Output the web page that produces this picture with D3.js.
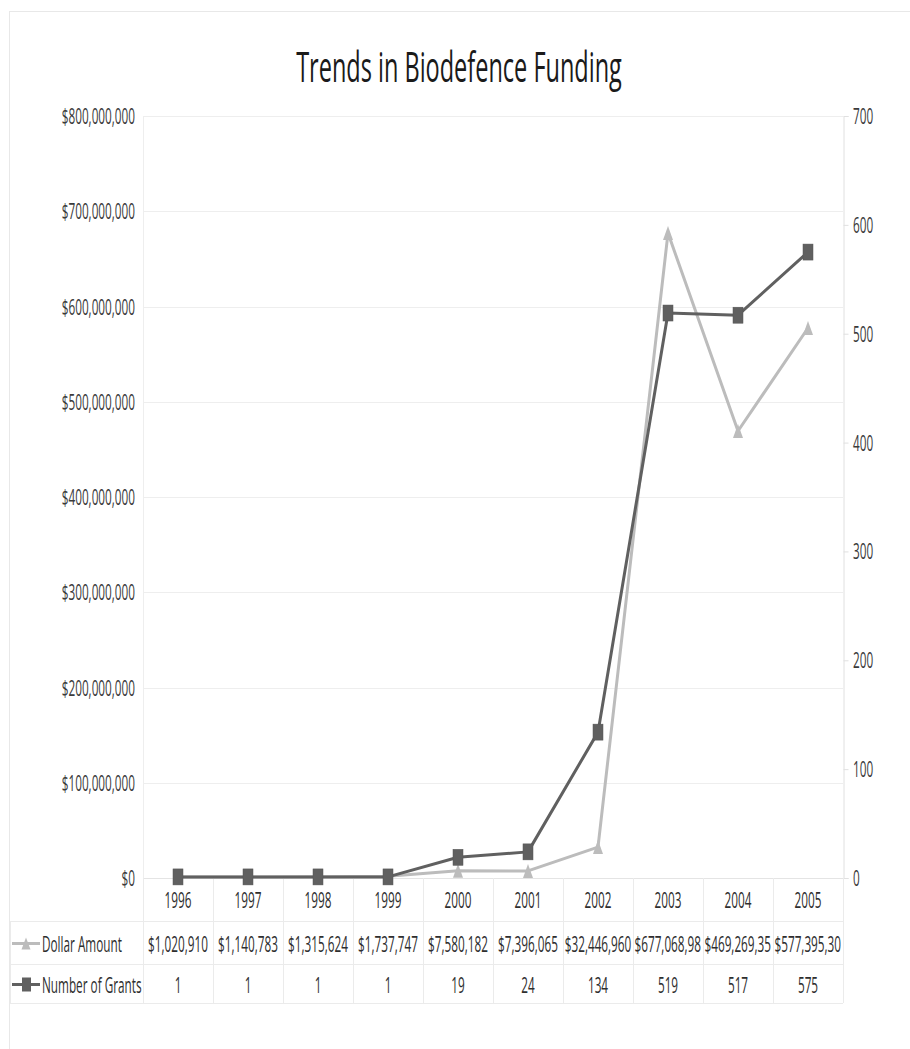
<!DOCTYPE html>
<html>
<head>
<meta charset="utf-8">
<script src="https://cdn.jsdelivr.net/npm/d3@7"></script>
<style>
html,body{margin:0;padding:0;background:#fff;}
svg text{font-family:"Open Sans",sans-serif;}
</style>
</head>
<body>
<svg id="chart" width="910" height="1049"></svg>
<script>
const title = "Trends in Biodefence Funding";
const years = ["1996","1997","1998","1999","2000","2001","2002","2003","2004","2005"];
const dollarAmount = [1020910, 1140783, 1315624, 1737747, 7580182, 7396065, 32446960, 677068980, 469269350, 577395300];
const numberOfGrants = [1, 1, 1, 1, 19, 24, 134, 519, 517, 575];
const leftTicks = [0, 100000000, 200000000, 300000000, 400000000, 500000000, 600000000, 700000000, 800000000];
const rightTicks = [0, 100, 200, 300, 400, 500, 600, 700];
const seriesNames = ["Dollar Amount", "Number of Grants"];

const svg = d3.select("#chart");
const L = 143, R = 843, T = 116, B = 878;
const rowY = [878, 921, 964, 1003];
const tableLeft = 10;
const SX = 0.56;
const FS = 21;
const lightColor = "#bcbcbc", darkColor = "#606060";
const gridColor = "#eeeeee";

const x = d3.scaleBand().domain(years).range([L, R]);
const yL = d3.scaleLinear().domain([0, 800000000]).range([B, T]);
const yR = d3.scaleLinear().domain([0, 700]).range([B, T]);

function sText(g, xx, yy, str, opts) {
  opts = opts || {};
  const gg = g.append("g").attr("transform", `translate(${xx},${yy}) scale(${opts.sx || SX},1)`);
  const t = gg.append("text")
    .attr("text-anchor", opts.anchor || "middle")
    .attr("dominant-baseline", "central")
    .attr("font-size", opts.fs || FS)
    .attr("fill", opts.fill || "#3a3a3a")
    .text(str);
  return t;
}

// outer border
svg.append("rect").attr("x", 9.5).attr("y", 11.5).attr("width", 1000).attr("height", 1100)
  .attr("fill", "none").attr("stroke", "#e8e8e8");

// title
sText(svg, 459, 66, title, {fs: 42, sx: 0.56, fill: "#1a1a1a"});

// gridlines
svg.append("g").selectAll("line").data(leftTicks).join("line")
  .attr("x1", L).attr("x2", R)
  .attr("y1", d => Math.round(yL(d)) + 0.5).attr("y2", d => Math.round(yL(d)) + 0.5)
  .attr("stroke", gridColor).attr("stroke-width", 1);

// left axis labels
const fmt = d3.format("$,.0f");
leftTicks.forEach(v => sText(svg, 135, yL(v), fmt(v), {anchor: "end"}));

// right axis line + ticks + labels
const yAxisR = d3.axisRight(yR).tickValues(rightTicks).tickSize(5).tickFormat("");
const gR = svg.append("g").attr("transform", `translate(${R + 0.5},0)`).call(yAxisR);
gR.selectAll("path,line").attr("stroke", "#e0e0e0");
rightTicks.forEach(v => sText(svg, 853, yR(v), String(v), {anchor: "start"}));

// left edge line
svg.append("line").attr("x1", L + 0.5).attr("x2", L + 0.5).attr("y1", T).attr("y2", B)
  .attr("stroke", "#eeeeee");

// table lines
const tbl = svg.append("g").attr("stroke", "#ebebeb").attr("stroke-width", 1);
tbl.append("line").attr("x1", L).attr("x2", R).attr("y1", rowY[0] + 0.5).attr("y2", rowY[0] + 0.5).attr("stroke", "#e4e4e4");
rowY.slice(1).forEach(yy => tbl.append("line").attr("x1", tableLeft).attr("x2", R)
  .attr("y1", yy + 0.5).attr("y2", yy + 0.5));
const bounds = years.map(d => x(d)).concat([R]);
bounds.forEach(xx => tbl.append("line").attr("x1", Math.round(xx) + 0.5).attr("x2", Math.round(xx) + 0.5)
  .attr("y1", rowY[0]).attr("y2", rowY[3]));
tbl.append("line").attr("x1", tableLeft + 0.5).attr("x2", tableLeft + 0.5).attr("y1", rowY[1]).attr("y2", rowY[3]);

// year labels
years.forEach(yv => sText(svg, x(yv) + x.bandwidth() / 2, 900, yv, {fill: "#2e2e2e"}));

// table values
const rowCenters = [(rowY[1] + rowY[2]) / 2 + 1, (rowY[2] + rowY[3]) / 2 + 1];
years.forEach((yv, i) => {
  const cx = x(yv) + x.bandwidth() / 2;
  let s = fmt(dollarAmount[i]);
  const t = sText(svg, cx, rowCenters[0], s, {fill: "#2e2e2e"});
  const maxW = (x.bandwidth() - 2) / SX;
  if (t.node().getComputedTextLength() > maxW) {
    while (s.length > 1 && t.node().getComputedTextLength() > maxW) {
      s = s.slice(0, -1);
      t.text(s);
    }
    t.attr("text-anchor", "start");
    d3.select(t.node().parentNode).attr("transform", `translate(${x(yv) + 1.5},${rowCenters[0]}) scale(${SX},1)`);
  }
  sText(svg, cx, rowCenters[1], String(numberOfGrants[i]), {fill: "#2e2e2e"});
});

// legend keys in table
function triPath(w, h) { return `M0,${-h/2}L${w/2},${h/2}L${-w/2},${h/2}Z`; }
svg.append("line").attr("x1", 12).attr("x2", 40).attr("y1", rowCenters[0]).attr("y2", rowCenters[0])
  .attr("stroke", lightColor).attr("stroke-width", 3);
svg.append("path").attr("d", triPath(9, 12)).attr("transform", `translate(26,${rowCenters[0]})`).attr("fill", lightColor);
svg.append("line").attr("x1", 12).attr("x2", 40).attr("y1", rowCenters[1]).attr("y2", rowCenters[1])
  .attr("stroke", darkColor).attr("stroke-width", 3);
svg.append("rect").attr("x", 22).attr("y", rowCenters[1] - 7).attr("width", 9).attr("height", 14).attr("fill", darkColor);
sText(svg, 42, rowCenters[0], seriesNames[0], {anchor: "start", fill: "#2e2e2e"});
sText(svg, 42, rowCenters[1], seriesNames[1], {anchor: "start", fill: "#2e2e2e"});

// series lines
const cxOf = d => x(d) + x.bandwidth() / 2;
const lineL = d3.line().x((d, i) => cxOf(years[i])).y(d => yL(d));
const lineR = d3.line().x((d, i) => cxOf(years[i])).y(d => yR(d));

svg.append("path").datum(dollarAmount).attr("d", lineL).attr("fill", "none")
  .attr("stroke", lightColor).attr("stroke-width", 3).attr("stroke-linejoin", "round");
svg.append("g").selectAll("path").data(dollarAmount).join("path")
  .attr("d", triPath(10, 14))
  .attr("transform", (d, i) => `translate(${cxOf(years[i])},${yL(d)})`)
  .attr("fill", lightColor);

svg.append("path").datum(numberOfGrants).attr("d", lineR).attr("fill", "none")
  .attr("stroke", darkColor).attr("stroke-width", 3).attr("stroke-linejoin", "round");
svg.append("g").selectAll("rect").data(numberOfGrants).join("rect")
  .attr("x", (d, i) => cxOf(years[i]) - 5).attr("y", d => yR(d) - 8)
  .attr("width", 10).attr("height", 16)
  .attr("fill", darkColor).attr("stroke", "#555").attr("stroke-width", 0.5);
</script>
</body>
</html>
